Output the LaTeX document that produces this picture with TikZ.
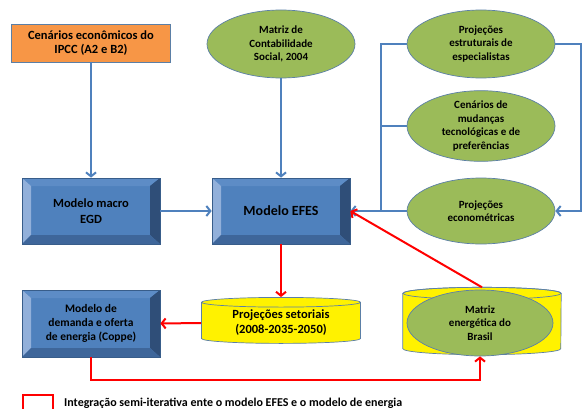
\documentclass[tikz,border=0pt]{standalone}
\usepackage{fontspec}
\setmainfont{Carlito}
\usepackage{tikz}
\usetikzlibrary{shapes.geometric,arrows.meta}
\definecolor{boxblue}{HTML}{4F81BD}
\definecolor{boxline}{HTML}{385D8A}
\definecolor{bevtop}{HTML}{5D8CC6}
\definecolor{bevleft}{HTML}{92B0DA}
\definecolor{bevright}{HTML}{2F4E78}
\definecolor{bevbottom}{HTML}{3E669A}
\definecolor{olive}{HTML}{9BBB59}
\definecolor{shapeline}{HTML}{5B7FA6}
\definecolor{ipccorange}{HTML}{F79646}
\definecolor{linkblue}{HTML}{4F81BD}
\tikzset{
  bevelbox/.style={draw=boxline, fill=boxblue, line width=0.7pt, minimum width=138pt,
    minimum height=66pt, inner sep=0pt, align=center, font=\bfseries\fontsize{12.5}{16}\selectfont,
    path picture={
      \def\pb{path picture bounding box}
      \fill[bevtop] (\pb.north west) -- (\pb.north east) -- ([shift={(-10pt,-8pt)}]\pb.north east) -- ([shift={(9pt,-8pt)}]\pb.north west) -- cycle;
      \fill[bevleft] (\pb.north west) -- ([shift={(9pt,-8pt)}]\pb.north west) -- ([shift={(9pt,9pt)}]\pb.south west) -- (\pb.south west) -- cycle;
      \fill[bevright] (\pb.north east) -- ([shift={(-10pt,-8pt)}]\pb.north east) -- ([shift={(-10pt,9pt)}]\pb.south east) -- (\pb.south east) -- cycle;
      \fill[bevbottom] (\pb.south west) -- ([shift={(9pt,9pt)}]\pb.south west) -- ([shift={(-10pt,9pt)}]\pb.south east) -- (\pb.south east) -- cycle;
    }},
  oval/.style={ellipse, draw=shapeline, fill=olive, line width=0.7pt, minimum width=148pt,
    minimum height=68pt, inner sep=0pt, align=center, font=\bfseries\fontsize{11}{13.5}\selectfont},
  tank/.style={cylinder, shape border rotate=90, draw=shapeline, fill=yellow, line width=0.7pt,
    aspect=0.1, inner sep=0pt, align=center, font=\bfseries\fontsize{12.5}{15}\selectfont},
  bluearr/.style={draw=linkblue, line width=2pt, -{Straight Barb[length=4pt,width=10pt]}},
  blueline/.style={draw=linkblue, line width=2pt},
  redarr/.style={draw=red, line width=2pt, -{Straight Barb[length=4pt,width=10pt]}}
}
\begin{document}
\begin{tikzpicture}[x=1pt,y=-1pt]
  \clip (0,0) rectangle (583,409);
  \useasboundingbox (0,0) rectangle (583,409);
  % inputs
  \node[draw=shapeline, fill=ipccorange, line width=0.7pt, minimum width=159pt, minimum height=38pt,
    inner sep=0pt, align=center, font=\bfseries\fontsize{12.5}{14}\selectfont] (ipcc) at (91,43)
    {Cenários econômicos do\\IPCC (A2 e B2)};
  \node[oval] (mcs) at (281,44) {Matriz de\\Contabilidade\\Social, 2004};
  \node[oval] (pe) at (481,44) {Projeções\\estruturais de\\especialistas};
  \node[oval, minimum height=62pt] (cm) at (481,126) {Cenários de\\mudanças\\tecnológicas e de\\preferências};
  \node[oval, minimum height=66pt] (pec) at (481,211) {Projeções\\econométricas};
  % models
  \node[bevelbox] (egd) at (91,211) {Modelo macro\\EGD};
  \node[bevelbox, font=\bfseries\fontsize{14}{16}\selectfont] (efes) at (281,211) {Modelo EFES};
  \node[bevelbox, minimum height=67pt, font=\bfseries\fontsize{11.5}{14}\selectfont] (dem) at (91,323.5)
    {Modelo de\\demanda e oferta\\de energia (Coppe)};
  % outputs
  \node[tank, minimum width=159pt, minimum height=46pt] (ps) at (281,323) {Projeções setoriais\\(2008-2035-2050)};
  \node[minimum width=158pt, minimum height=67pt, inner sep=0pt] (me) at (482,321) {};
  \draw[fill=yellow, draw=shapeline, line width=0.7pt] ([yshift=-6pt]me.north west) -- ([yshift=6pt]me.south west)
    arc[start angle=180, end angle=360, x radius=79pt, y radius=6pt] -- ([yshift=-6pt]me.north east)
    arc[start angle=0, end angle=180, x radius=79pt, y radius=6pt] -- cycle;
  \draw[draw=shapeline, line width=0.7pt] ([yshift=-6pt]me.north) ellipse [x radius=79pt, y radius=6pt];
  \node[oval, minimum width=146pt, minimum height=66pt] (mat) at (480,323) {Matriz\\energética do\\Brasil};
  % links
  \coordinate (bl) at (381,211);
  \coordinate (br) at (581,211);
  \coordinate (low) at (0,380);
  \draw[bluearr] (ipcc) -- (egd);
  \draw[bluearr] (mcs) -- (efes);
  \draw[bluearr] (egd) -- (efes);
  \draw[blueline] (pe.west) -| (bl);
  \draw[blueline] (cm.west) -- (cm.west -| bl);
  \draw[bluearr] (pec.west) -- (efes.east);
  \draw[bluearr] (pe.east) -| (br) -- (pec.east);
  \draw[redarr] (efes) -- (ps.north);
  \draw[redarr] (ps.west) -- (dem.east);
  \draw[redarr] (dem.south) -- (dem.south |- low) -| (mat.south);
  \draw[redarr] (me.north) -- (efes.east);
  % legend
  \node[draw=red, line width=2pt, minimum width=30pt, minimum height=18pt, inner sep=0pt] (key) at (38,404) {};
  \node[anchor=west, font=\bfseries\fontsize{12}{14}\selectfont, inner sep=0pt] (keytxt) at (64,403)
    {Integração semi-iterativa ente o modelo EFES e o modelo de energia};
\end{tikzpicture}
\end{document}
